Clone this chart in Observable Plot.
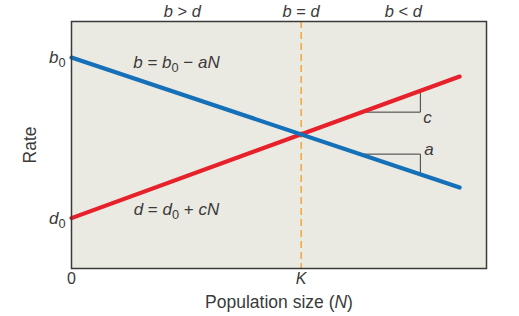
<!DOCTYPE html>
<html><head><meta charset="utf-8">
<script src="https://cdn.jsdelivr.net/npm/d3@7"></script>
<script src="https://cdn.jsdelivr.net/npm/@observablehq/plot@0.6"></script>
<style>
body{margin:0;background:#fff;font-family:"Liberation Sans",Arial,Helvetica,sans-serif}
g[aria-label="x-axis label"] text, g[aria-label="y-axis label"] text{font-size:17.5px}
</style>
</head><body><div id="chart"></div>
<script>
// Birth and death rate lines (population size N, rate)
const birthLine = [{N: 0, rate: 0.854}, {N: 1.69, rate: 0.328}];
const deathLine = [{N: 0, rate: 0.204}, {N: 1.69, rate: 0.777}];
const K = 1;
// slope triangles
const triC = [{N: 1.266, rate: 0.633}, {N: 1.519, rate: 0.633}, {N: 1.519, rate: 0.719}];
const triA = [{N: 1.258, rate: 0.463}, {N: 1.519, rate: 0.463}, {N: 1.519, rate: 0.382}];
// tick labels
const xTicks = [0, K];
const xTickLabels = ["0", "K"];
const yTicks = [0.854, 0.204];
const yTickLabels = ["b0", "d0"];
// annotations
const topLabels = [
  {N: 0.483, text: "b > d"},
  {N: 1.0, text: "b = d"},
  {N: 1.445, text: "b < d"}
];
const eqLabels = [
  {N: 0.457, rate: 0.834, text: "b = b0 − aN"},
  {N: 0.457, rate: 0.239, text: "d = d0 + cN"}
];
const slopeLabels = [
  {N: 1.532, rate: 0.611, text: "c"},
  {N: 1.536, rate: 0.482, text: "a"}
];

const blue = "#1470b8", red = "#e6212b", orange = "#f4a12e", bg = "#ebeae2", ink = "#3a3a3a";

const chart = Plot.plot({
  width: 519, height: 316,
  marginLeft: 71, marginRight: 33, marginTop: 21, marginBottom: 48,
  style: {fontFamily: '"Liberation Sans", Arial, Helvetica, sans-serif', fontSize: "15px", color: ink, background: "#fff"},
  x: {domain: [0, 1.807]},
  y: {domain: [0, 1]},
  marks: [
    Plot.frame({fill: bg, stroke: null}),
    Plot.ruleX([K], {stroke: orange, strokeWidth: 1.4, strokeDasharray: "7,4"}),
    Plot.line(triC, {x: "N", y: "rate", stroke: ink, strokeWidth: 1}),
    Plot.line(triA, {x: "N", y: "rate", stroke: ink, strokeWidth: 1}),
    Plot.line(deathLine, {x: "N", y: "rate", stroke: red, strokeWidth: 4.2}),
    Plot.line(birthLine, {x: "N", y: "rate", stroke: blue, strokeWidth: 4.2}),
    Plot.frame({stroke: ink, strokeWidth: 1.5}),
    Plot.axisX(xTicks, {tickSize: 0, tickPadding: 4, tickFormat: (d, i) => xTickLabels[i],
      label: "Population size (N)", labelAnchor: "center", labelArrow: "none", labelOffset: 39}),
    Plot.axisY(yTicks, {tickSize: 0, tickPadding: 6, tickFormat: (d, i) => yTickLabels[i],
      label: "Rate", labelAnchor: "center", labelArrow: "none", labelOffset: 48}),
    Plot.text(topLabels, {x: "N", y: 1.04, text: "text", fontSize: 16.5, clip: false}),
    Plot.text(eqLabels, {x: "N", y: "rate", text: "text", fontSize: 17}),
    Plot.text(slopeLabels, {x: "N", y: "rate", text: "text", fontSize: 17, textAnchor: "start"})
  ]
});
document.getElementById("chart").append(chart);

// rich text: italics and subscripts (with per-label font size for axis ticks)
const rich = {
  "b > d": [["b","i"],[" > ",""],["d","i"]],
  "b = d": [["b","i"],[" = ",""],["d","i"]],
  "b < d": [["b","i"],[" < ",""],["d","i"]],
  "b0": [["b","i"],["0","s"]],
  "d0": [["d","i"],["0","s"]],
  "b = b0 − aN": [["b","i"],[" = ",""],["b","i"],["0","s"],[" − ",""],["aN","i"]],
  "d = d0 + cN": [["d","i"],[" = ",""],["d","i"],["0","s"],[" + ",""],["cN","i"]],
  "K": [["K","i"]],
  "0": [["0",""]],
  "c": [["c","i"]],
  "a": [["a","i"]],
  "Population size (N)": [["Population size (",""],["N","i"],[")",""]]
};
const sizes = {"K": "16px", "0": "16px", "b0": "17px", "d0": "17px"};
d3.select(chart).selectAll("text").each(function() {
  const t = this.textContent;
  if (this.children.length > 1) return;
  const segs = rich[t];
  if (!segs) return;
  const el = d3.select(this);
  if (sizes[t]) el.style("font-size", sizes[t]);
  el.text(null);
  segs.forEach(([s, st]) => {
    const ts = el.append("tspan").text(s);
    if (st === "i") ts.attr("font-style", "italic");
    if (st === "s") ts.attr("baseline-shift", "-0.3em").attr("font-size", "0.75em");
  });
});
</script>
</body></html>
